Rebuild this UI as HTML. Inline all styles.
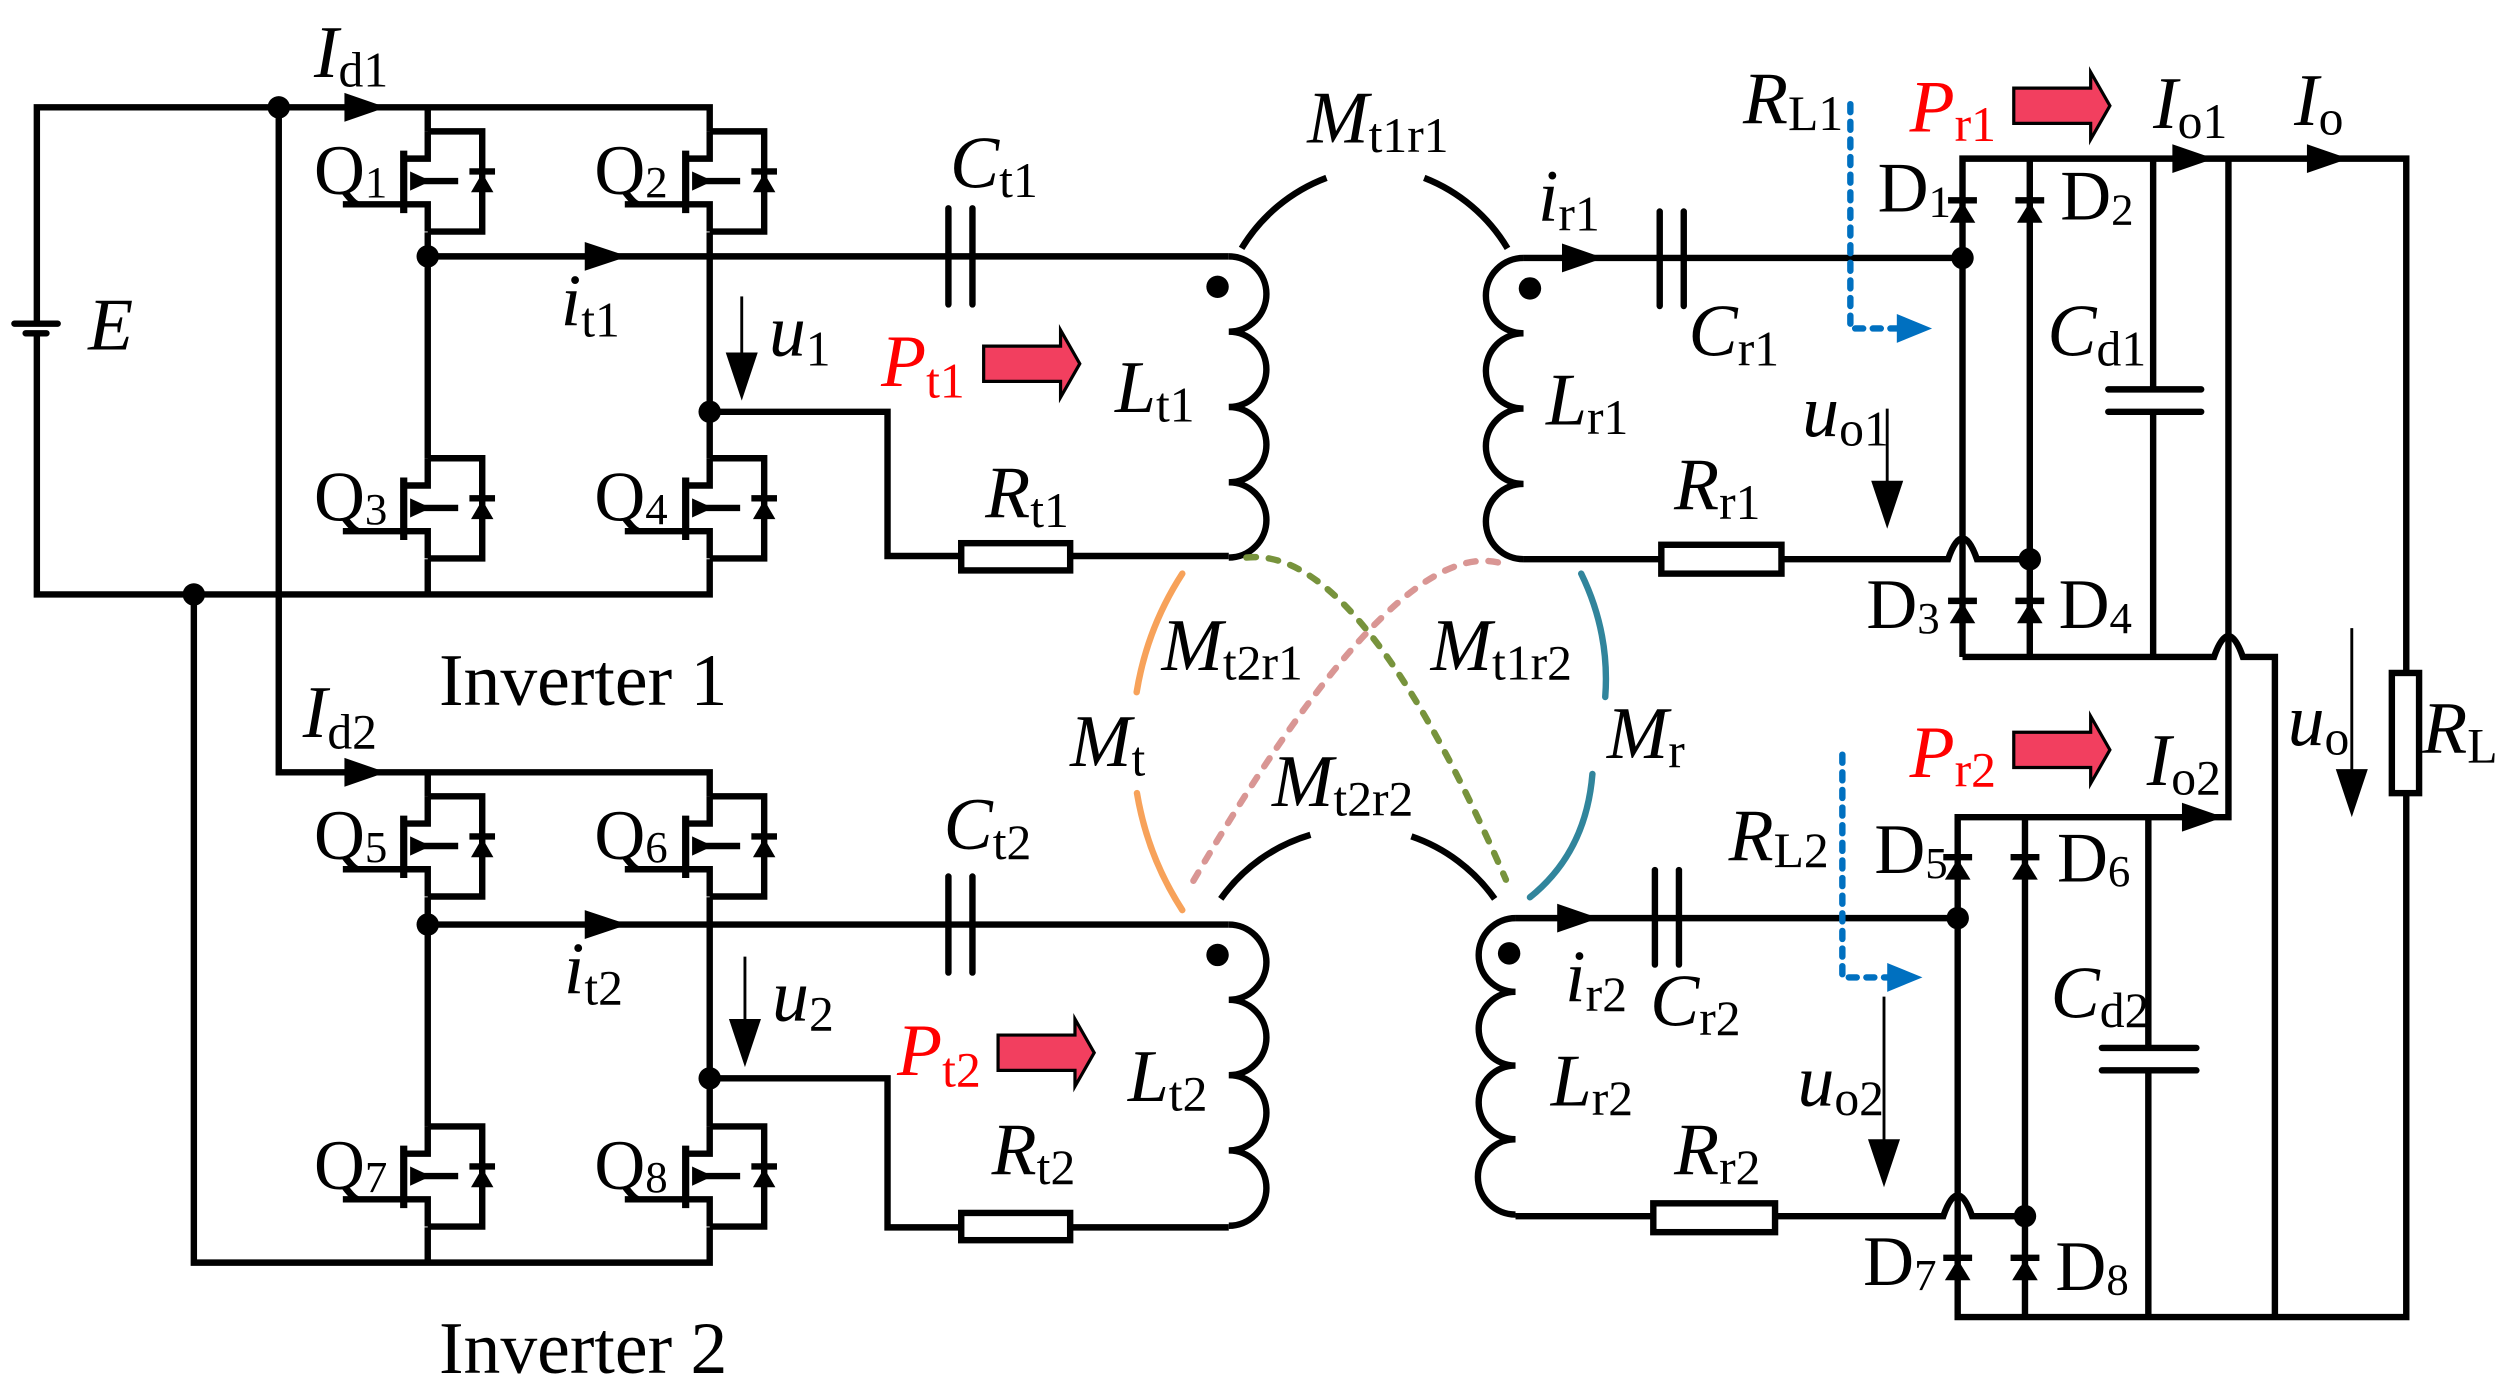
<!DOCTYPE html>
<html><head><meta charset="utf-8"><style>
html,body{margin:0;padding:0;background:#fff;}
svg{display:block;}
text{font-family:"Liberation Serif",serif;font-size:46px;fill:#000;}
.i{font-style:italic;}
.s{font-style:normal;font-size:31px;}
.q{font-size:44px;}
.qs{font-size:28px;}
.red{fill:#ff0000;}
</style></head><body>
<svg width="2512" height="1394" viewBox="0 0 1568 870" preserveAspectRatio="none" xmlns="http://www.w3.org/2000/svg">
<defs>
<g id="mos">
  <path d="M0 0 H34 V62.5 H0" fill="none" stroke="#000" stroke-width="4"/>
  <path d="M0 0 V17 H-15 M0 62.5 V45.5 H-15" fill="none" stroke="#000" stroke-width="4"/>
  <line x1="-15" y1="12" x2="-15" y2="51" stroke="#000" stroke-width="4.5"/>
  <line x1="-53" y1="45.5" x2="-15" y2="45.5" stroke="#000" stroke-width="4"/>
  <line x1="-10" y1="31" x2="19" y2="31" stroke="#000" stroke-width="4"/>
  <polygon points="-11,25 2,31 -11,37" fill="#000"/>
  <polygon points="27,38 41,38 34,26" fill="#000"/>
  <line x1="26" y1="25" x2="42" y2="25" stroke="#000" stroke-width="4"/>
</g>
<g id="dio">
  <polygon points="-8,8 8,8 0,-5" fill="#000"/>
  <line x1="-9" y1="-6" x2="9" y2="-6" stroke="#000" stroke-width="4"/>
</g>
<g id="red">
  <path d="M0 -11 H48 V-21 L60 0 L48 21 V11 H0 Z" fill="#f23f5f" stroke="#000" stroke-width="2"/>
</g>
</defs>

<g fill="none" stroke="#000" stroke-width="4" stroke-linejoin="miter">
<path d="M23 202 V67 H443 V82"/>
<path d="M23 208 V371 H443 V349"/>
<path d="M174 67 V482 H443 V497"/>
<path d="M121 371 V788 H443 V766"/>
<path d="M267 67 V82 M267 145 V286 M267 349 V371"/>
<path d="M443 145 V286"/>
<path d="M267 160 H767"/>
<path d="M443 257 H554 V347 H600 M668 347 H767"/>
<path d="M267 482 V497 M267 560 V703 M267 766 V788"/>
<path d="M443 560 V703"/>
<path d="M267 577 H767"/>
<path d="M443 673 H554 V766 H600 M668 766 H767"/>
<path d="M767 160 A23.5 23.5 0 0 1 767 207 A23.5 23.5 0 0 1 767 254 A23.5 23.5 0 0 1 767 301 A23.5 23.5 0 0 1 767 348"/>
<path d="M767 577 A23.5 23.5 0 0 1 767 624 A23.5 23.5 0 0 1 767 671 A23.5 23.5 0 0 1 767 718 A23.5 23.5 0 0 1 767 765"/>
<path d="M951 161 A23.5 23.5 0 0 0 951 208 A23.5 23.5 0 0 0 951 255 A23.5 23.5 0 0 0 951 302 A23.5 23.5 0 0 0 951 349"/>
<path d="M946 573 A23 23 0 0 0 946 619 A23 23 0 0 0 946 665 A23 23 0 0 0 946 711 A23 23 0 0 0 946 758"/>
<path d="M951 161 H1225"/>
<path d="M951 349 H1037 M1112 349 H1216 Q1225 323 1234 349 H1267"/>
<path d="M946 573 H1222"/>
<path d="M946 759 H1032 M1108 759 H1213 Q1222 733 1231 759 H1264"/>
<path d="M1225 410 V99 H1502 V822 H1222 V510 H1391 V99"/>
<path d="M1267 99 V410"/>
<path d="M1225 410 H1382 Q1391 384 1400 410 H1420 V822"/>
<path d="M1344 99 V243 M1344 257 V410"/>
<path d="M1316 243 H1374 M1316 257 H1374" stroke-linecap="round"/>
<path d="M1264 510 V822"/>
<path d="M1341 510 V654 M1341 668 V822"/>
<path d="M1312 654 H1371 M1312 668 H1371" stroke-linecap="round"/>
<path d="M592 130 V190 M607 130 V190 M592 547 V607 M607 547 V607 M1036 132 V191 M1051 132 V191 M1033 543 V602 M1048 543 V602" stroke-linecap="round"/>
<path d="M9 202 H36 M16 208 H29" stroke-linecap="round"/>
<path d="M775 155 A105 105 0 0 1 828 111 M889 111 A105 105 0 0 1 941 155" stroke-width="4"/>
<path d="M762 561 A105 105 0 0 1 818 521 M881 522 A105 105 0 0 1 933 561" stroke-width="4"/>
</g>
<g fill="#fff" stroke="#000" stroke-width="4">
<rect x="600" y="339" width="68" height="17"/>
<rect x="600" y="757" width="68" height="17"/>
<rect x="1037" y="340" width="75" height="18"/>
<rect x="1032" y="751" width="76" height="18"/>
<rect x="1493" y="420" width="17" height="75"/>
</g>
<use href="#mos" x="267" y="82"/><use href="#mos" x="443" y="82"/>
<use href="#mos" x="267" y="286"/><use href="#mos" x="443" y="286"/>
<use href="#mos" x="267" y="497"/><use href="#mos" x="443" y="497"/>
<use href="#mos" x="267" y="703"/><use href="#mos" x="443" y="703"/>
<use href="#dio" x="1225" y="131"/><use href="#dio" x="1267" y="131"/>
<use href="#dio" x="1225" y="381"/><use href="#dio" x="1267" y="381"/>
<use href="#dio" x="1222" y="541"/><use href="#dio" x="1264" y="541"/>
<use href="#dio" x="1222" y="791"/><use href="#dio" x="1264" y="791"/>
<g fill="#000">
<circle cx="174" cy="67" r="7"/><circle cx="121" cy="371" r="7"/>
<circle cx="267" cy="160" r="7"/><circle cx="443" cy="257" r="7"/>
<circle cx="267" cy="577" r="7"/><circle cx="443" cy="673" r="7"/>
<circle cx="1225" cy="161" r="7"/><circle cx="1267" cy="349" r="7"/>
<circle cx="1222" cy="573" r="7"/><circle cx="1264" cy="759" r="7"/>
<circle cx="760" cy="179" r="7"/><circle cx="760" cy="596" r="7"/>
<circle cx="955" cy="180" r="7"/><circle cx="942" cy="595" r="7"/>
<polygon points="215,58 241,67 215,76"/>
<polygon points="215,473 241,482 215,491"/>
<polygon points="365,151 392,160 365,169"/>
<polygon points="365,568 392,577 365,586"/>
<polygon points="975,152 1001,161 975,170"/>
<polygon points="972,564 998,573 972,582"/>
<polygon points="1356,90 1382,99 1356,108"/>
<polygon points="1440,90 1466,99 1440,108"/>
<polygon points="1362,501 1388,510 1362,519"/>
<polygon points="453,220 473,220 463,250"/>
<polygon points="455,636 475,636 465,666"/>
<polygon points="1168,300 1188,300 1178,330"/>
<polygon points="1166,711 1186,711 1176,741"/>
<polygon points="1458,480 1478,480 1468,510"/>
</g>
<g stroke="#000" stroke-width="1.8">
<line x1="463" y1="185" x2="463" y2="222"/>
<line x1="465" y1="597" x2="465" y2="638"/>
<line x1="1178" y1="255" x2="1178" y2="302"/>
<line x1="1176" y1="622" x2="1176" y2="713"/>
<line x1="1468" y1="392" x2="1468" y2="482"/>
</g>
<g fill="none" stroke-width="4" stroke-linecap="round">
<path d="M738 358 A193 193 0 0 0 709.5 432 M709.7 495 A193 193 0 0 0 738 568" stroke="#f7a25a"/>
<path d="M987 358 Q1005 395 1002 435 M994 483 Q990 532 955 560" stroke="#31859c"/>
<path d="M778 348 Q849 340 940 549" stroke="#77933c" stroke-dasharray="6 8"/>
<path d="M935 351 Q869 336 743 553" stroke="#d99694" stroke-dasharray="6 8"/>
<path d="M1155 65 V205 H1186" stroke="#0070c0" stroke-dasharray="5 6"/>
<path d="M1150 471 V610 H1181" stroke="#0070c0" stroke-dasharray="5 6"/>
</g>
<g fill="#0070c0">
<polygon points="1184,196 1206,205 1184,214"/>
<polygon points="1178,601 1200,610 1178,619"/>
</g>
<use href="#red" x="614" y="227"/>
<use href="#red" x="623" y="657"/>
<use href="#red" x="1257" y="66"/>
<use href="#red" x="1257" y="468"/>

<text x="196" y="48" class="i">I<tspan class="s" dy="6">d1</tspan></text>
<text x="189" y="460" class="i">I<tspan class="s" dy="7">d2</tspan></text>
<text x="196" y="121" class="q">Q<tspan class="qs" dy="2">1</tspan></text>
<text x="371" y="121" class="q">Q<tspan class="qs" dy="2">2</tspan></text>
<text x="196" y="325" class="q">Q<tspan class="qs" dy="2">3</tspan></text>
<text x="371" y="325" class="q">Q<tspan class="qs" dy="2">4</tspan></text>
<text x="196" y="536" class="q">Q<tspan class="qs" dy="2">5</tspan></text>
<text x="371" y="536" class="q">Q<tspan class="qs" dy="2">6</tspan></text>
<text x="196" y="742" class="q">Q<tspan class="qs" dy="2">7</tspan></text>
<text x="371" y="742" class="q">Q<tspan class="qs" dy="2">8</tspan></text>
<text x="55" y="218" class="i">E</text>
<text x="350" y="203" class="i">i<tspan class="s" dy="7">t1</tspan></text>
<text x="352" y="620" class="i">i<tspan class="s" dy="7">t2</tspan></text>
<text x="480" y="222" class="i">u<tspan class="s" dy="6">1</tspan></text>
<text x="482" y="637" class="i">u<tspan class="s" dy="6">2</tspan></text>
<text x="550" y="241" class="i red">P<tspan class="s red" dy="7">t1</tspan></text>
<text x="560" y="671" class="i red">P<tspan class="s red" dy="7">t2</tspan></text>
<text x="593" y="117" class="i">C<tspan class="s" dy="6">t1</tspan></text>
<text x="589" y="530" class="i">C<tspan class="s" dy="6">t2</tspan></text>
<text x="696" y="257" class="i">L<tspan class="s" dy="6">t1</tspan></text>
<text x="704" y="687" class="i">L<tspan class="s" dy="6">t2</tspan></text>
<text x="615" y="323" class="i">R<tspan class="s" dy="6">t1</tspan></text>
<text x="619" y="733" class="i">R<tspan class="s" dy="6">t2</tspan></text>
<text x="816" y="89" class="i">M<tspan class="s" dy="6">t1r1</tspan></text>
<text x="725" y="418" class="i">M<tspan class="s" dy="6">t2r1</tspan></text>
<text x="893" y="418" class="i">M<tspan class="s" dy="6">t1r2</tspan></text>
<text x="668" y="478" class="i">M<tspan class="s" dy="6">t</tspan></text>
<text x="1003" y="473" class="i">M<tspan class="s" dy="6">r</tspan></text>
<text x="794" y="503" class="i">M<tspan class="s" dy="6">t2r2</tspan></text>
<text x="960" y="138" class="i">i<tspan class="s" dy="6">r1</tspan></text>
<text x="977" y="625" class="i">i<tspan class="s" dy="6">r2</tspan></text>
<text x="1054" y="222" class="i">C<tspan class="s" dy="6">r1</tspan></text>
<text x="1030" y="640" class="i">C<tspan class="s" dy="6">r2</tspan></text>
<text x="965" y="265" class="i">L<tspan class="s" dy="6">r1</tspan></text>
<text x="968" y="690" class="i">L<tspan class="s" dy="6">r2</tspan></text>
<text x="1045" y="318" class="i">R<tspan class="s" dy="6">r1</tspan></text>
<text x="1045" y="733" class="i">R<tspan class="s" dy="6">r2</tspan></text>
<text x="1125" y="272" class="i">u<tspan class="s" dy="6">o1</tspan></text>
<text x="1122" y="690" class="i">u<tspan class="s" dy="6">o2</tspan></text>
<text x="1088" y="77" class="i">R<tspan class="s" dy="4">L1</tspan></text>
<text x="1079" y="537" class="i">R<tspan class="s" dy="4">L2</tspan></text>
<text x="1192" y="82" class="i red">P<tspan class="s red" dy="6">r1</tspan></text>
<text x="1192" y="485" class="i red">P<tspan class="s red" dy="6">r2</tspan></text>
<text x="1172" y="132" class="q">D<tspan class="qs" dy="3">1</tspan></text>
<text x="1286" y="137" class="q">D<tspan class="qs" dy="3">2</tspan></text>
<text x="1165" y="392" class="q">D<tspan class="qs" dy="3">3</tspan></text>
<text x="1285" y="392" class="q">D<tspan class="qs" dy="3">4</tspan></text>
<text x="1170" y="545" class="q">D<tspan class="qs" dy="3">5</tspan></text>
<text x="1284" y="550" class="q">D<tspan class="qs" dy="3">6</tspan></text>
<text x="1163" y="802" class="q">D<tspan class="qs" dy="3">7</tspan></text>
<text x="1283" y="805" class="q">D<tspan class="qs" dy="3">8</tspan></text>
<text x="1278" y="222" class="i">C<tspan class="s" dy="6">d1</tspan></text>
<text x="1280" y="635" class="i">C<tspan class="s" dy="6">d2</tspan></text>
<text x="1344" y="80" class="i">I<tspan class="s" dy="6">o1</tspan></text>
<text x="1432" y="78" class="i">I<tspan class="s" dy="6">o</tspan></text>
<text x="1340" y="490" class="i">I<tspan class="s" dy="6">o2</tspan></text>
<text x="1428" y="465" class="i">u<tspan class="s" dy="6">o</tspan></text>
<text x="1512" y="470" class="i">R<tspan class="s" dy="6">L</tspan></text>
<text x="274" y="440">Inverter 1</text>
<text x="274" y="857">Inverter 2</text>
</svg>
</body></html>
